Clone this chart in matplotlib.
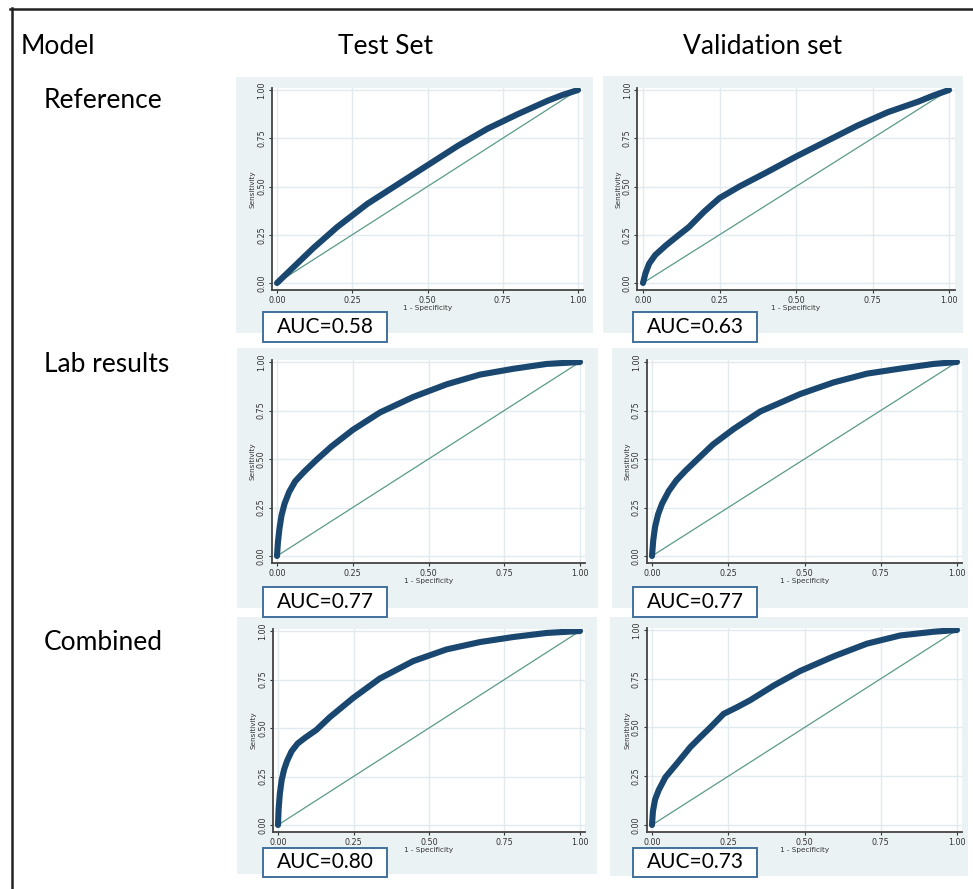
"""ROC curves for the three models, test vs validation set."""

import matplotlib
matplotlib.use('Agg')
import matplotlib.pyplot as plt
from matplotlib.patches import Rectangle
from matplotlib.lines import Line2D

W, H = 973, 889

row_names = ['Reference', 'Lab results', 'Combined']
col_names = ['Test Set', 'Validation set']

# ROC points (1 - specificity, sensitivity)
ref_test_fpr = [0, 0.03, 0.07, 0.12, 0.2, 0.3, 0.4, 0.45, 0.5, 0.6, 0.7, 0.8, 0.9, 0.95, 1.0]
ref_test_tpr = [0, 0.045, 0.105, 0.18, 0.29, 0.41, 0.51, 0.56, 0.61, 0.71, 0.80, 0.875, 0.945, 0.975, 1.0]

ref_val_fpr = [0, 0.008, 0.02, 0.04, 0.075, 0.11, 0.15, 0.2, 0.25, 0.315, 0.4, 0.5, 0.6, 0.7, 0.8, 0.9, 0.95, 1.0]
ref_val_tpr = [0, 0.05, 0.1, 0.145, 0.195, 0.24, 0.29, 0.37, 0.44, 0.5, 0.57, 0.655, 0.735, 0.815, 0.885, 0.94, 0.972, 1.0]

lab_test_fpr = [0, 0.003, 0.008, 0.015, 0.025, 0.04, 0.06, 0.09, 0.13, 0.18, 0.25, 0.34, 0.45, 0.56, 0.67, 0.78, 0.89, 1.0]
lab_test_tpr = [0, 0.07, 0.14, 0.21, 0.27, 0.33, 0.385, 0.435, 0.495, 0.565, 0.65, 0.74, 0.82, 0.885, 0.935, 0.965, 0.99, 1.0]

lab_val_fpr = [0, 0.004, 0.01, 0.02, 0.033, 0.055, 0.08, 0.11, 0.15, 0.2, 0.268, 0.355, 0.486, 0.596, 0.705, 0.814, 0.923, 1.0]
lab_val_tpr = [0, 0.08, 0.15, 0.215, 0.27, 0.335, 0.39, 0.44, 0.5, 0.575, 0.655, 0.745, 0.835, 0.895, 0.94, 0.966, 0.99, 1.0]

comb_test_fpr = [0, 0.002, 0.006, 0.012, 0.02, 0.03, 0.045, 0.065, 0.09, 0.127, 0.171, 0.249, 0.337, 0.448, 0.558, 0.669, 0.779, 0.89, 1.0]
comb_test_tpr = [0, 0.08, 0.16, 0.23, 0.285, 0.33, 0.38, 0.42, 0.45, 0.49, 0.555, 0.655, 0.755, 0.845, 0.905, 0.943, 0.969, 0.99, 1.0]

comb_val_fpr = [0, 0.003, 0.01, 0.022, 0.044, 0.082, 0.126, 0.158, 0.191, 0.235, 0.28, 0.322, 0.399, 0.486, 0.596, 0.705, 0.814, 0.923, 1.0]
comb_val_tpr = [0, 0.07, 0.13, 0.179, 0.245, 0.316, 0.4, 0.45, 0.5, 0.57, 0.605, 0.64, 0.715, 0.79, 0.865, 0.93, 0.972, 0.991, 1.0]

auc_labels = [['AUC=0.58', 'AUC=0.63'],
              ['AUC=0.77', 'AUC=0.77'],
              ['AUC=0.80', 'AUC=0.73']]

curves = [[(ref_test_fpr, ref_test_tpr), (ref_val_fpr, ref_val_tpr)],
          [(lab_test_fpr, lab_test_tpr), (lab_val_fpr, lab_val_tpr)],
          [(comb_test_fpr, comb_test_tpr), (comb_val_fpr, comb_val_tpr)]]

# layout in pixels: panel box, pixel of data 0/1 on x and y, AUC box
panel_boxes = [[(236, 77, 593, 333), (603, 76, 963, 333)],
               [(237, 348, 598, 608), (612, 348, 968, 608)],
               [(237, 617, 597, 874), (610, 617, 968, 876)]]
data_px = [[(277, 578, 283, 90), (643, 949, 283, 90)],
           [(277, 580, 556, 362), (652, 957, 556, 362)],
           [(278, 580, 825, 631), (652, 957, 825, 630)]]
auc_boxes = [[(263, 312, 387, 342), (633, 312, 757, 342)],
             [(263, 587, 387, 617), (633, 587, 757, 617)],
             [(263, 848, 387, 877), (633, 848, 757, 877)]]

XLIM = (-0.018, 1.018)
YLIM = (-0.036, 1.012)
NAVY = '#1a476f'
DIAG = '#5a9a88'
PANEL_BG = '#ebf2f4'
GRID = '#e1eaee'

fig = plt.figure(figsize=(W / 100, H / 100), dpi=100)
fig.patch.set_facecolor('white')


def fx(x):
    return x / W


def fy(y):
    return 1 - y / H


# frame lines
fig.add_artist(Line2D([fx(10), fx(973)], [fy(8.5), fy(8.5)], color='#222222', lw=1.8))
fig.add_artist(Line2D([fx(11.5), fx(11.5)], [fy(8), fy(889)], color='#222222', lw=1.8))

hdr = dict(family='Lato', fontsize=19, color='black', va='center')
fig.text(fx(21), fy(47), 'Model', ha='left', **hdr)
fig.text(fx(386), fy(47), col_names[0], ha='center', **hdr)
fig.text(fx(763), fy(46), col_names[1], ha='center', **hdr)
for name, yc in zip(row_names, [100, 364, 643]):
    fig.text(fx(44), fy(yc), name, ha='left', **hdr)

for r in range(3):
    for c in range(2):
        x0b, y0b, x1b, y1b = panel_boxes[r][c]
        fig.add_artist(Rectangle((fx(x0b), fy(y1b)), fx(x1b - x0b), (y1b - y0b) / H,
                                 facecolor=PANEL_BG, edgecolor='none', zorder=0))

        px0, px1, py0, py1 = data_px[r][c]
        sx = px1 - px0
        sy = py0 - py1
        left = px0 + XLIM[0] * sx
        right = px0 + XLIM[1] * sx
        bottom = py0 - YLIM[0] * sy
        top = py0 - YLIM[1] * sy
        ax = fig.add_axes([fx(left), fy(bottom), (right - left) / W, (bottom - top) / H])
        ax.set_facecolor('white')
        ax.set_xlim(XLIM)
        ax.set_ylim(YLIM)

        ticks = [0, 0.25, 0.5, 0.75, 1.0]
        ax.set_xticks(ticks)
        ax.set_yticks(ticks)
        ax.set_xticklabels(['0.00', '0.25', '0.50', '0.75', '1.00'])
        ax.set_yticklabels(['0.00', '0.25', '0.50', '0.75', '1.00'], rotation=90, va='center')
        ax.tick_params(labelsize=5.8, length=2.5, width=0.8, pad=1.5,
                       colors='#333333')
        ax.grid(True, color=GRID, lw=1.0)
        ax.set_axisbelow(True)
        for s in ['top', 'right']:
            ax.spines[s].set_visible(False)
        for s in ['left', 'bottom']:
            ax.spines[s].set_color('#444444')
            ax.spines[s].set_linewidth(1.3)
        ax.set_xlabel('1 - Specificity', fontsize=5.2, labelpad=0.5, color='#333333')
        ax.set_ylabel('Sensitivity', fontsize=5.2, labelpad=1, color='#333333')

        ax.plot([0, 1], [0, 1], color=DIAG, lw=0.9, zorder=2)
        fpr, tpr = curves[r][c]
        ax.plot(fpr, tpr, color=NAVY, lw=4.4, solid_capstyle='round',
                solid_joinstyle='round', zorder=3)

        bx0, by0, bx1, by1 = auc_boxes[r][c]
        fig.add_artist(Rectangle((fx(bx0), fy(by1)), fx(bx1 - bx0), (by1 - by0) / H,
                                 facecolor='white', edgecolor='#41719c', lw=1.4, zorder=5))
        fig.text(fx((bx0 + bx1) / 2), fy((by0 + by1) / 2), auc_labels[r][c],
                 family='Lato', fontsize=15, ha='center', va='center', zorder=6)

fig.savefig('out.png', dpi=100)
plt.close()
print("[OK] out.png")
